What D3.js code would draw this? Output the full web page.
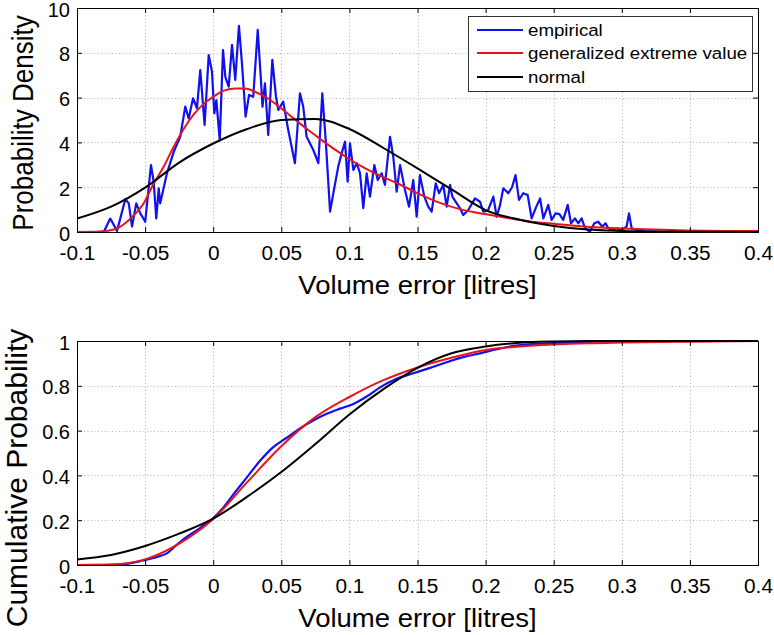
<!DOCTYPE html>
<html>
<head>
<meta charset="utf-8">
<script src="https://cdn.jsdelivr.net/npm/d3@7"></script>
<style>
  html, body { margin: 0; padding: 0; background: #ffffff; }
  svg { display: block; }
</style>
</head>
<body>
<script>
// ---------------- DATA ----------------
const xTickValues = [-0.1, -0.05, 0, 0.05, 0.1, 0.15, 0.2, 0.25, 0.3, 0.35, 0.4];
const xTickLabels = ["-0.1", "-0.05", "0", "0.05", "0.1", "0.15", "0.2", "0.25", "0.3", "0.35", "0.4"];
const pdfTickValues = [0, 2, 4, 6, 8, 10];
const pdfTickLabels = ["0", "2", "4", "6", "8", "10"];
const cdfTickValues = [0, 0.2, 0.4, 0.6, 0.8, 1];
const cdfTickLabels = ["0", "0.2", "0.4", "0.6", "0.8", "1"];
const seriesNames = ["empirical", "generalized extreme value", "normal"];

// Empirical probability density
const empPdfX = [-0.1, -0.085, -0.0802, -0.0756, -0.0706, -0.0645, -0.0620, -0.0596, -0.0565, -0.0535, -0.0499, -0.0457, -0.0437, -0.0418, -0.0400, -0.0389, -0.0339, -0.0290, -0.0242, -0.0205, -0.0180, -0.0148, -0.0119, -0.0095, -0.0063, -0.0033, -0.0009, 0.0008, 0.0023, 0.0048, 0.0072, 0.0089, 0.0114, 0.0138, 0.0162, 0.0189, 0.0213, 0.0238, 0.0263, 0.0294, 0.0327, 0.0349, 0.0362, 0.0380, 0.0404, 0.0434, 0.0461, 0.0478, 0.0514, 0.0551, 0.0600, 0.0637, 0.0661, 0.0686, 0.0735, 0.0772, 0.0801, 0.0826, 0.0858, 0.0882, 0.0918, 0.0943, 0.0968, 0.0987, 0.1004, 0.1029, 0.1054, 0.1078, 0.1102, 0.1127, 0.1151, 0.1183, 0.1208, 0.1237, 0.1261, 0.1298, 0.1322, 0.1347, 0.1372, 0.1408, 0.1438, 0.1469, 0.1494, 0.1518, 0.1550, 0.1579, 0.1604, 0.1634, 0.1658, 0.1689, 0.1714, 0.1739, 0.1756, 0.1788, 0.1812, 0.1836, 0.1873, 0.1922, 0.1959, 0.1983, 0.2017, 0.2057, 0.2081, 0.2106, 0.2130, 0.2167, 0.2194, 0.2220, 0.2245, 0.2276, 0.2309, 0.2338, 0.2370, 0.2400, 0.2424, 0.2460, 0.2485, 0.2514, 0.2542, 0.2570, 0.2603, 0.2627, 0.2656, 0.2680, 0.2705, 0.2730, 0.2766, 0.2798, 0.2827, 0.2856, 0.2881, 0.2900, 0.2925, 0.2962, 0.2999, 0.3035, 0.3053, 0.3072, 0.3109, 0.317, 0.33, 0.4];
const empPdfY = [0, 0, 0.02, 0.6, 0.05, 1.47, 1.28, 0.24, 1.28, 0.83, 0.46, 2.99, 2.25, 0.61, 1.95, 1.28, 2.63, 3.58, 4.25, 5.6, 5.07, 5.97, 5.52, 7.23, 4.78, 7.9, 7.16, 5.3, 5.89, 4.1, 8.12, 6.93, 6.49, 8.35, 6.79, 9.2, 7.38, 5.15, 6.12, 6.04, 9.02, 6.93, 5.6, 6.64, 4.33, 7.68, 6.04, 5.45, 5.82, 4.55, 3.07, 6.19, 5.6, 4.25, 3.66, 3.07, 6.19, 4.11, 0.91, 1.73, 2.92, 3.51, 4.03, 2.25, 3.96, 2.77, 3.07, 2.62, 1.06, 2.62, 1.58, 2.99, 2.32, 2.62, 2.10, 4.25, 3.36, 1.80, 2.99, 1.88, 1.13, 2.32, 0.68, 2.54, 1.58, 1.13, 0.91, 2.17, 1.73, 2.10, 1.13, 2.10, 1.58, 1.28, 1.06, 0.76, 0.98, 1.50, 1.35, 0.91, 0.95, 1.58, 0.68, 1.2, 1.95, 1.73, 2.0, 2.54, 1.43, 1.73, 1.65, 0.61, 1.1, 1.50, 0.61, 1.21, 0.54, 0.83, 0.8, 0.54, 1.21, 0.39, 0.61, 0.39, 0.61, 0.17, 0.01, 0.39, 0.46, 0.24, 0.39, 0.17, 0.09, 0.17, 0.09, 0.24, 0.83, 0.17, 0.09, 0.03, 0, 0];

// Generalized extreme value density
const gevPdfX = [-0.1, -0.0831, -0.0721, -0.0633, -0.0567, -0.0510, -0.0449, -0.0363, -0.0290, -0.0217, -0.0143, -0.0070, 0.0004, 0.0077, 0.0167, 0.0233, 0.0307, 0.0405, 0.0503, 0.0601, 0.0698, 0.0797, 0.0894, 0.0992, 0.1090, 0.1188, 0.1286, 0.1371, 0.1494, 0.1665, 0.1824, 0.1996, 0.2164, 0.2338, 0.2510, 0.2678, 0.2847, 0.3045, 0.3427, 0.4];
const gevPdfY = [0, 0.02, 0.12, 0.46, 0.85, 1.28, 2.02, 2.92, 3.81, 4.6, 5.25, 5.72, 6.05, 6.31, 6.41, 6.41, 6.26, 5.95, 5.5, 5.02, 4.55, 4.1, 3.68, 3.28, 2.93, 2.62, 2.35, 2.12, 1.75, 1.3, 1.0, 0.8, 0.62, 0.46, 0.36, 0.27, 0.2, 0.15, 0.08, 0.04];

// Normal density
const normPdfX = [-0.1, -0.075, -0.05, -0.025, 0, 0.025, 0.05, 0.075, 0.1, 0.125, 0.15, 0.175, 0.2, 0.225, 0.25, 0.275, 0.3, 0.325, 0.35, 0.4];
const normPdfY = [0.6, 1.13, 1.98, 3.1, 3.95, 4.6, 5.0, 5.05, 4.6, 3.75, 2.84, 1.9, 0.98, 0.55, 0.27, 0.11, 0.05, 0.02, 0.01, 0];

// Cumulative probabilities
const empCdfX = [-0.1, -0.0684, -0.0515, -0.0391, -0.0341, -0.0268, -0.0195, -0.0097, 0.0001, 0.0072, 0.0148, 0.0246, 0.0344, 0.0439, 0.0540, 0.0637, 0.0735, 0.0833, 0.0931, 0.1026, 0.1127, 0.1225, 0.1342, 0.1469, 0.1592, 0.1714, 0.1834, 0.1959, 0.2076, 0.2203, 0.2449, 0.2693, 0.2987, 0.4];
const empCdfY = [0, 0.002, 0.02, 0.04, 0.052, 0.09, 0.125, 0.165, 0.21, 0.255, 0.315, 0.39, 0.465, 0.525, 0.568, 0.61, 0.645, 0.675, 0.698, 0.718, 0.752, 0.793, 0.83, 0.856, 0.88, 0.905, 0.928, 0.945, 0.962, 0.978, 0.99, 0.995, 1.0, 1.0];

const gevCdfX = [-0.1, -0.075, -0.05, -0.025, 0, 0.025, 0.05, 0.075, 0.1, 0.125, 0.15, 0.175, 0.2, 0.225, 0.25, 0.275, 0.3, 0.35, 0.4];
const gevCdfY = [0, 0.002, 0.025, 0.095, 0.205, 0.37, 0.53, 0.66, 0.75, 0.825, 0.882, 0.925, 0.96, 0.975, 0.984, 0.99, 0.993, 0.997, 1.0];

const normCdfX = [-0.1, -0.075, -0.05, -0.025, 0, 0.025, 0.05, 0.075, 0.1, 0.125, 0.15, 0.175, 0.2, 0.225, 0.25, 0.275, 0.3, 0.35, 0.4];
const normCdfY = [0.025, 0.045, 0.085, 0.14, 0.207, 0.305, 0.415, 0.54, 0.672, 0.785, 0.88, 0.945, 0.975, 0.992, 0.998, 1, 1, 1, 1];

// ---------------- DRAWING ----------------
const W = 774, H = 635;
const FONT = "'Liberation Sans', Arial, Helvetica, sans-serif";
const COLORS = ["#1010f0", "#e8141c", "#000000"];
const WIDTHS = [2.2, 2, 2];

const svg = d3.select("body").append("svg")
  .attr("width", W).attr("height", H)
  .attr("font-family", FONT);

svg.append("rect").attr("width", W).attr("height", H).attr("fill", "#fff");

const x = d3.scaleLinear().domain([-0.1, 0.4]).range([77, 758]);

function drawPanel(id, top, bottom, yDomain, yTicks, yLabels, series, yTitle, yTitleOpts, xTitleBaseline) {
  const y = d3.scaleLinear().domain(yDomain).range([bottom, top]);
  const g = svg.append("g");

  svg.append("clipPath").attr("id", id)
    .append("rect").attr("x", x.range()[0]).attr("y", top - 1)
    .attr("width", x.range()[1] - x.range()[0]).attr("height", bottom - top + 2);

  // grid
  const grid = g.append("g").attr("stroke", "#b4b4b4").attr("stroke-width", 1)
    .attr("stroke-dasharray", "1,2.5");
  grid.selectAll("line.vx").data(xTickValues.slice(1, -1)).join("line")
    .attr("x1", d => Math.round(x(d)) + 0.5).attr("x2", d => Math.round(x(d)) + 0.5)
    .attr("y1", top).attr("y2", bottom);
  grid.selectAll("line.hy").data(yTicks.slice(1, -1)).join("line")
    .attr("y1", d => Math.round(y(d)) + 0.5).attr("y2", d => Math.round(y(d)) + 0.5)
    .attr("x1", x.range()[0]).attr("x2", x.range()[1]);

  // series
  const line = d3.line().x(d => x(d[0])).y(d => y(d[1]));
  series.forEach((s, i) => {
    const pts = s.xs.map((v, k) => [v, s.ys[k]]);
    g.append("path")
      .attr("clip-path", `url(#${id})`)
      .attr("d", line.curve(s.smooth ? d3.curveMonotoneX : d3.curveLinear)(pts))
      .attr("fill", "none")
      .attr("stroke", COLORS[i])
      .attr("stroke-width", WIDTHS[i])
      .attr("stroke-linejoin", "round");
  });

  // axes
  const styleAxis = sel => {
    sel.select(".domain").remove();
    sel.selectAll(".tick line").attr("stroke", "#000");
  };
  const axB = g.append("g").attr("transform", `translate(0,${bottom})`)
    .call(d3.axisBottom(x).tickValues(xTickValues).tickFormat((d, i) => xTickLabels[i])
      .tickSizeInner(-5).tickSizeOuter(0));
  styleAxis(axB);
  axB.selectAll(".tick text")
    .attr("y", 28).attr("dy", null)
    .attr("font-size", 20).attr("font-family", FONT).attr("fill", "#000")
    .attr("transform", "scale(1.04,1)");

  const axT = g.append("g").attr("transform", `translate(0,${top})`)
    .call(d3.axisTop(x).tickValues(xTickValues).tickFormat("").tickSizeInner(-5).tickSizeOuter(0));
  styleAxis(axT);

  const axL = g.append("g").attr("transform", `translate(${x.range()[0]},0)`)
    .call(d3.axisLeft(y).tickValues(yTicks).tickFormat((d, i) => yLabels[i])
      .tickSizeInner(-5).tickSizeOuter(0));
  styleAxis(axL);
  axL.selectAll(".tick text")
    .attr("x", -7).attr("dy", "0.4em")
    .attr("font-size", 20).attr("font-family", FONT).attr("fill", "#000");

  const axR = g.append("g").attr("transform", `translate(${x.range()[1]},0)`)
    .call(d3.axisRight(y).tickValues(yTicks).tickFormat("").tickSizeInner(-5).tickSizeOuter(0));
  styleAxis(axR);

  // frame
  g.append("rect")
    .attr("x", x.range()[0] + 0.5).attr("y", top + 0.5)
    .attr("width", x.range()[1] - x.range()[0]).attr("height", bottom - top)
    .attr("fill", "none").attr("stroke", "#000").attr("stroke-width", 1);

  // x title
  g.append("text")
    .attr("transform", `translate(${(x.range()[0] + x.range()[1]) / 2},${xTitleBaseline}) scale(1.1,1)`)
    .attr("text-anchor", "middle")
    .attr("font-size", 25)
    .attr("fill", "#000")
    .text("Volume error [litres]");

  // y title
  g.append("text")
    .attr("transform", `translate(${yTitleOpts.bx},${yTitleOpts.cy}) scale(${yTitleOpts.sx},1) rotate(-90)`)
    .attr("text-anchor", "middle")
    .attr("font-size", yTitleOpts.size)
    .attr("fill", "#000")
    .text(yTitle);

  return { y, g };
}

// top panel
drawPanel("clipTop", 8, 232, [0, 10], pdfTickValues, pdfTickLabels, [
  { xs: empPdfX, ys: empPdfY, smooth: false },
  { xs: gevPdfX, ys: gevPdfY, smooth: true },
  { xs: normPdfX, ys: normPdfY, smooth: true }
], "Probability Density", { bx: 33, cy: 123, sx: 1.1, size: 26 }, 294);

// bottom panel
drawPanel("clipBot", 341, 565, [0, 1], cdfTickValues, cdfTickLabels, [
  { xs: empCdfX, ys: empCdfY, smooth: true },
  { xs: gevCdfX, ys: gevCdfY, smooth: true },
  { xs: normCdfX, ys: normCdfY, smooth: true }
], "Cumulative Probability", { bx: 27, cy: 478, sx: 1.0, size: 30 }, 627);

// legend (top panel)
const leg = svg.append("g");
leg.append("rect")
  .attr("x", 468.5).attr("y", 16.5).attr("width", 284).attr("height", 75)
  .attr("fill", "#fff").attr("stroke", "#333").attr("stroke-width", 1);
const legY = [30, 53, 77];
seriesNames.forEach((name, i) => {
  leg.append("line")
    .attr("x1", 477).attr("x2", 523).attr("y1", legY[i]).attr("y2", legY[i])
    .attr("stroke", COLORS[i]).attr("stroke-width", 2);
  leg.append("text")
    .attr("transform", `translate(528,${legY[i]}) scale(1.1,1)`)
    .attr("dy", "0.35em")
    .attr("font-size", 17)
    .attr("fill", "#000")
    .text(name);
});
</script>
</body>
</html>
